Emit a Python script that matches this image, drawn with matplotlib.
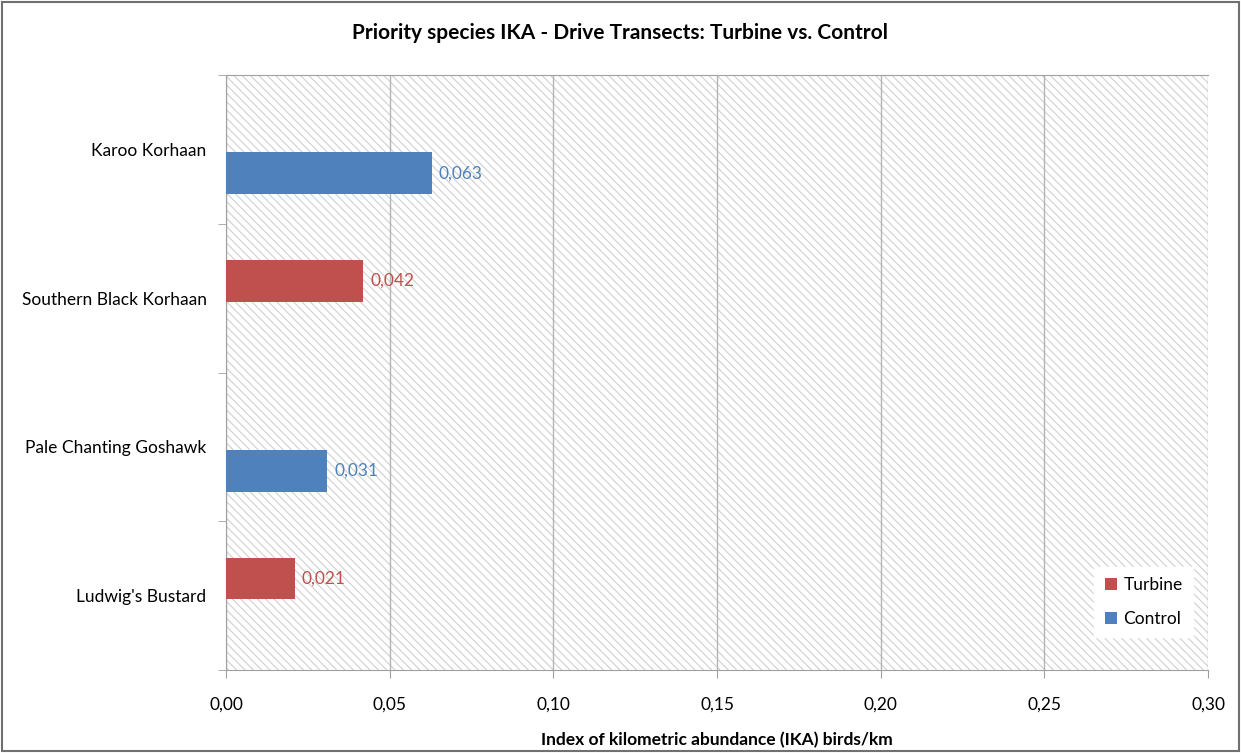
import matplotlib.pyplot as plt
import matplotlib.patches as ptc
import numpy as np

species = ["Ludwig's Bustard", "Pale Chanting Goshawk", "Southern Black Korhaan", "Karoo Korhaan"]
turbine = [0.021, 0, 0.042, 0]
control = [0, 0.031, 0, 0.063]
xticks = [0.00, 0.05, 0.10, 0.15, 0.20, 0.25, 0.30]

red = '#C0504D'
blue = '#4F81BD'
plt.rcParams['font.family'] = ['Lato', 'DejaVu Sans']
plt.rcParams['hatch.linewidth'] = 0.8
plt.rcParams['hatch.color'] = '#CFCFCF'

fig = plt.figure(figsize=(12.41, 7.53), dpi=100)
ax = fig.add_axes([226 / 1241, 83 / 753, 982 / 1241, 595 / 753])

# hatched plot area
ax.add_patch(ptc.Rectangle((0, 0), 1, 1, transform=ax.transAxes, facecolor='white',
                           edgecolor='#CFCFCF', hatch='\\' * 4, lw=0, zorder=0))

y = np.arange(len(species))
h = 0.28
off_t = 0.115
off_c = 0.16
ax.barh(y + off_t, turbine, height=h, color=red, label='Turbine', zorder=3)
ax.barh(y - off_c, control, height=h, color=blue, label='Control', zorder=3)

fs = 12.5
for i in range(len(species)):
    if turbine[i] > 0:
        ax.text(turbine[i] + 0.002, y[i] + off_t, ('%.3f' % turbine[i]).replace('.', ','),
                color=red, va='center', ha='left', fontsize=fs, zorder=4)
    if control[i] > 0:
        ax.text(control[i] + 0.002, y[i] - off_c, ('%.3f' % control[i]).replace('.', ','),
                color=blue, va='center', ha='left', fontsize=fs, zorder=4)

ax.set_xlim(0, 0.30)
ax.set_ylim(-0.5, len(species) - 0.5)
ax.set_xticks(xticks)
ax.set_xticklabels([('%.2f' % v).replace('.', ',') for v in xticks], fontsize=fs)
ax.set_yticks(y)
ax.set_yticklabels(species, fontsize=fs)
ax.set_yticks(np.arange(len(species) + 1) - 0.5, minor=True)
ax.tick_params(axis='y', which='major', length=0, pad=14)
ax.tick_params(axis='y', which='minor', length=6, color='#A0A0A0')
ax.tick_params(axis='x', length=6, color='#A0A0A0', pad=13)
ax.grid(axis='x', color='#B4B4B4', lw=1, zorder=1)
ax.set_axisbelow(True)
for s in ax.spines.values():
    s.set_color('#A0A0A0')
ax.spines['right'].set_visible(False)

ax.set_xlabel('Index of kilometric abundance (IKA) birds/km', fontsize=fs,
              fontweight='bold', labelpad=14)
fig.suptitle('Priority species IKA - Drive Transects: Turbine vs. Control', fontsize=15,
             fontweight='bold', x=0.5, y=0.97)

leg = ax.legend(loc='lower right', bbox_to_anchor=(0.985, 0.055), fontsize=fs, frameon=True,
                handlelength=0.7, handleheight=0.7, labelspacing=1.0, borderpad=0.6,
                handletextpad=0.4, borderaxespad=0, fancybox=False)
leg.get_frame().set_edgecolor('white')
leg.get_frame().set_facecolor('white')
leg.get_frame().set_alpha(1)

fig.patches.append(ptc.Rectangle((0.002, 0.002), 0.996, 0.996, transform=fig.transFigure,
                                 fill=False, edgecolor='#707070', lw=1.5))

plt.savefig('out.png')
